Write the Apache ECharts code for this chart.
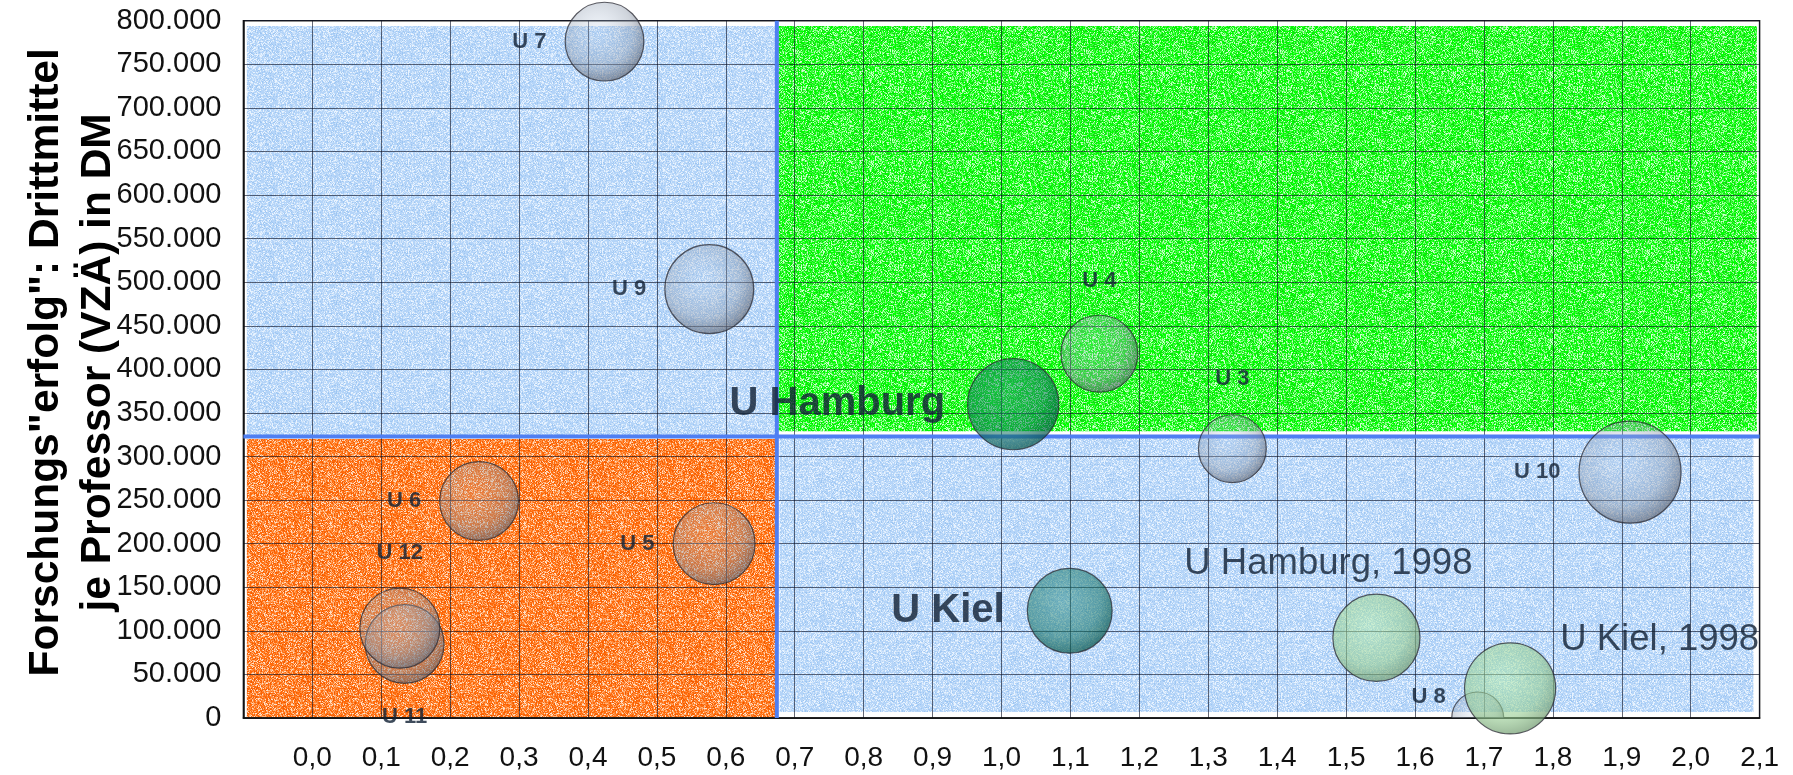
<!DOCTYPE html>
<html><head><meta charset="utf-8">
<script src="https://cdn.jsdelivr.net/npm/echarts@6/dist/echarts.min.js"></script>
<style>html,body{margin:0;padding:0;background:#fff}#c{width:1793px;height:775px}</style>
</head><body><div id="c"></div>
<script>
// ---- data ----
const otherNames = ['U 3', 'U 4', 'U 5', 'U 6', 'U 7', 'U 9', 'U 10', 'U 11', 'U 12'];
const otherX     = [1.335, 1.142, 0.583, 0.242, 0.424, 0.576, 1.912, 0.134, 0.127];
const otherY     = [309000, 418000, 200000, 249000, 776000, 492000, 282000, 85000, 103000];
const otherSize  = [46, 59, 67, 62, 62, 79, 104, 62, 64];

const hiddenNames = ['U 8'];
const hiddenX     = [1.691];
const hiddenY     = [0];
const hiddenSize  = [27];

const focusNames = ['U Hamburg', 'U Kiel'];
const focusX     = [1.017, 1.099];
const focusY     = [360000, 123000];
const focusSize  = [83, 72];

const prevNames = ['U Hamburg, 1998', 'U Kiel, 1998'];
const prevX     = [1.544, 1.738];
const prevY     = [92000, 34000];
const prevSize  = [76, 83];

const xThreshold = 0.674;
const yThreshold = 323000;

const xMin = -0.1, xMax = 2.1, xStep = 0.1;
const yMin = 0, yMax = 800000, yStep = 50000;

const yTitle = 'Forschungs"erfolg": Drittmittel\nje Professor (VZÄ) in DM';

// ---- styles ----
const FONT = '"Liberation Sans", Arial, sans-serif';
const TXT = 'rgba(20,35,55,0.82)';
const sz = v => 10 * Math.sqrt(v);

const smallLabel = {
  'U 3': {position: 'top', distance: 24},
  'U 4': {position: 'top', distance: 23},
  'U 12': {position: 'top', distance: 24},
  'U 11': {position: 'bottom', distance: 22}
};
const bigLabel = {
  'U Hamburg': {position: 'left', distance: 22, fontSize: 40, fontWeight: 'bold'},
  'U Kiel': {position: 'left', distance: 22, fontSize: 40, fontWeight: 'bold'},
  'U Hamburg, 1998': {position: 'top', distance: 11, offset: [-48, 0], fontSize: 36.5, fontWeight: 'normal'},
  'U Kiel, 1998': {position: 'right', distance: 4, offset: [0, -48], fontSize: 36.5, fontWeight: 'normal'}
};

const grad = (a, b, c) => new echarts.graphic.RadialGradient(0.42, 0.38, 0.66, [
  {offset: 0, color: a}, {offset: 0.65, color: b}, {offset: 1, color: c}]);

const otherFill = grad('rgba(185,205,230,0.2)', 'rgba(140,152,170,0.42)', 'rgba(90,95,108,0.72)');
const focusFill = grad('rgba(40,140,125,0.45)', 'rgba(20,115,100,0.55)', 'rgba(5,80,70,0.74)');
const prevFill  = grad('rgba(180,238,170,0.5)', 'rgba(150,205,145,0.6)', 'rgba(110,150,110,0.75)');
const BORDER = 'rgba(40,40,50,0.75)';

// speckled texture tiles (decoration only)
function hash(x, y) {
  let n = Math.imul(x, 374761393) + Math.imul(y, 668265263) | 0;
  n = Math.imul(n ^ (n >>> 13), 1274126177);
  n = n ^ (n >>> 16);
  return (n >>> 0) / 4294967296;
}
function texture(palette, salt) {
  const w = 97, h = 89;
  const cv = document.createElement('canvas');
  cv.width = w; cv.height = h;
  const ctx = cv.getContext('2d');
  const img = ctx.createImageData(w, h);
  for (let y = 0; y < h; y++) for (let x = 0; x < w; x++) {
    const r = hash(x + salt, y * 3 + salt);
    let acc = 0, c = palette[palette.length - 1][1];
    for (const [p, col] of palette) { acc += p; if (r < acc) { c = col; break; } }
    const k = (y * w + x) * 4;
    img.data[k] = c[0]; img.data[k + 1] = c[1]; img.data[k + 2] = c[2]; img.data[k + 3] = 255;
  }
  ctx.putImageData(img, 0, 0);
  return {image: cv, repeat: 'repeat'};
}
const blueBg = texture([[0.5, [180, 212, 248]], [0.25, [207, 228, 251]], [0.15, [232, 243, 255]], [0.1, [158, 198, 242]]], 11);
const greenBg = texture([[0.3, [0, 255, 0]], [0.25, [60, 248, 60]], [0.2, [140, 255, 140]], [0.1, [208, 255, 208]], [0.15, [16, 216, 16]]], 37);
const orangeBg = texture([[0.35, [255, 106, 10]], [0.25, [255, 138, 58]], [0.2, [255, 178, 122]], [0.1, [255, 224, 200]], [0.1, [240, 90, 0]]], 71);

function mk(names, xs, ys, sizes, labelFn) {
  return names.map((n, i) => ({name: n, value: [xs[i], ys[i], sizes[i]], label: labelFn(n)}));
}

const chart = echarts.init(document.getElementById('c'), null, {renderer: 'canvas'});

const GRIDLINE = 'rgba(10,15,35,0.62)';
const option = {
  animation: false,
  backgroundColor: '#fff',
  grid: {left: 243.4, right: 33.4, top: 20.7, bottom: 57, containLabel: false, outerBoundsMode: 'none',
         show: true, borderColor: '#222', borderWidth: 1.5, backgroundColor: 'transparent', z: 2},
  xAxis: {
    type: 'value', min: xMin, max: xMax, interval: xStep, z: 2,
    axisLine: {show: true, onZero: false, lineStyle: {color: '#111', width: 1.5}},
    axisTick: {show: false},
    axisLabel: {
      fontSize: 28, fontFamily: FONT, color: '#111', margin: 26,
      formatter: v => {
        if (Math.abs(v - xMin) < 1e-9) return '';
        let r = Math.round(v * 10) / 10; if (Math.abs(r) < 1e-9) r = 0;
        return r.toFixed(1).replace('.', ',');
      }
    },
    splitLine: {show: true, lineStyle: {color: GRIDLINE, width: 1}}
  },
  yAxis: {
    type: 'value', min: yMin, max: yMax, interval: yStep, z: 2,
    name: yTitle, nameLocation: 'middle', nameRotate: 90, nameGap: 119, nameMoveOverlap: false,
    nameTextStyle: {fontSize: 42.5, fontWeight: 'bold', fontFamily: FONT, color: '#000', lineHeight: 52,
                    align: 'center', padding: [0, 0, 0, 14]},
    axisLine: {show: true, onZero: false, lineStyle: {color: '#111', width: 1.5}},
    axisTick: {show: false},
    axisLabel: {
      fontSize: 29, fontFamily: FONT, color: '#111', margin: 22,
      formatter: v => String(Math.round(v)).replace(/\B(?=(\d{3})+(?!\d))/g, '.')
    },
    splitLine: {show: true, lineStyle: {color: GRIDLINE, width: 1}}
  },
  series: [
    {
      name: 'quadrants', type: 'line', data: [], z: 1, silent: true,
      markArea: {
        z: 1, silent: true,
        data: [
          [{xAxis: xMin + 0.005, yAxis: yThreshold, itemStyle: {color: blueBg}}, {xAxis: xThreshold, yAxis: yMax - 6000}],
          [{xAxis: xThreshold + 0.002, yAxis: yThreshold + 6000, itemStyle: {color: greenBg}}, {xAxis: xMax - 0.004, yAxis: yMax - 6000}],
          [{xAxis: xMin + 0.005, yAxis: yMin, itemStyle: {color: orangeBg}}, {xAxis: xThreshold, yAxis: yThreshold - 3000}],
          [{xAxis: xThreshold + 0.004, yAxis: yMin + 7000, itemStyle: {color: blueBg}}, {xAxis: xMax - 0.009, yAxis: yThreshold}]
        ]
      }
    },
    {
      name: 'vline', type: 'line', z: 3, clip: false, silent: true, symbol: 'none',
      data: [[xThreshold, yMin], [xThreshold, yMax]],
      lineStyle: {color: '#4f7ff2', width: 4}
    },
    {
      name: 'hline', type: 'line', z: 3, clip: false, silent: true, symbol: 'none',
      data: [[xMin, yThreshold], [xMax, yThreshold]],
      lineStyle: {color: '#4f7ff2', width: 4}
    },
    {
      name: 'hidden', type: 'custom', z: 4, clip: true,
      data: mk(hiddenNames, hiddenX, hiddenY, hiddenSize, () => ({})),
      renderItem: (params, api) => {
        const p = api.coord([api.value(0), api.value(1)]);
        const r = sz(api.value(2)) / 2;
        return {type: 'group', children: [
          {type: 'circle', shape: {cx: p[0], cy: p[1], r: r}, style: {fill: otherFill, stroke: BORDER, lineWidth: 1.2}},
          {type: 'text', style: {text: hiddenNames[params.dataIndex], x: p[0] - r - 6, y: p[1] - 21,
            align: 'right', verticalAlign: 'middle', font: 'bold 22px ' + FONT, fill: TXT}}
        ]};
      }
    },
    {
      name: 'others', type: 'scatter', z: 4,
      symbolSize: v => sz(v[2]),
      data: mk(otherNames, otherX, otherY, otherSize, n => Object.assign(
        {show: true, formatter: '{b}', position: 'left', distance: 18, fontSize: 22, fontWeight: 'bold', fontFamily: FONT, color: TXT},
        smallLabel[n] || {})),
      itemStyle: {color: otherFill, borderColor: BORDER, borderWidth: 1.2, opacity: 1}
    },
    {
      name: 'focus', type: 'scatter', z: 5,
      symbolSize: v => sz(v[2]),
      data: mk(focusNames, focusX, focusY, focusSize, n => Object.assign(
        {show: true, formatter: '{b}', fontFamily: FONT, color: TXT}, bigLabel[n])),
      itemStyle: {color: focusFill, borderColor: BORDER, borderWidth: 1.2, opacity: 1}
    },
    {
      name: 'prev', type: 'scatter', z: 5,
      symbolSize: v => sz(v[2]),
      data: mk(prevNames, prevX, prevY, prevSize, n => Object.assign(
        {show: true, formatter: '{b}', fontFamily: FONT, color: TXT}, bigLabel[n])),
      itemStyle: {color: prevFill, borderColor: BORDER, borderWidth: 1.2, opacity: 1}
    }
  ]
};
chart.setOption(option);
</script>
</body></html>
